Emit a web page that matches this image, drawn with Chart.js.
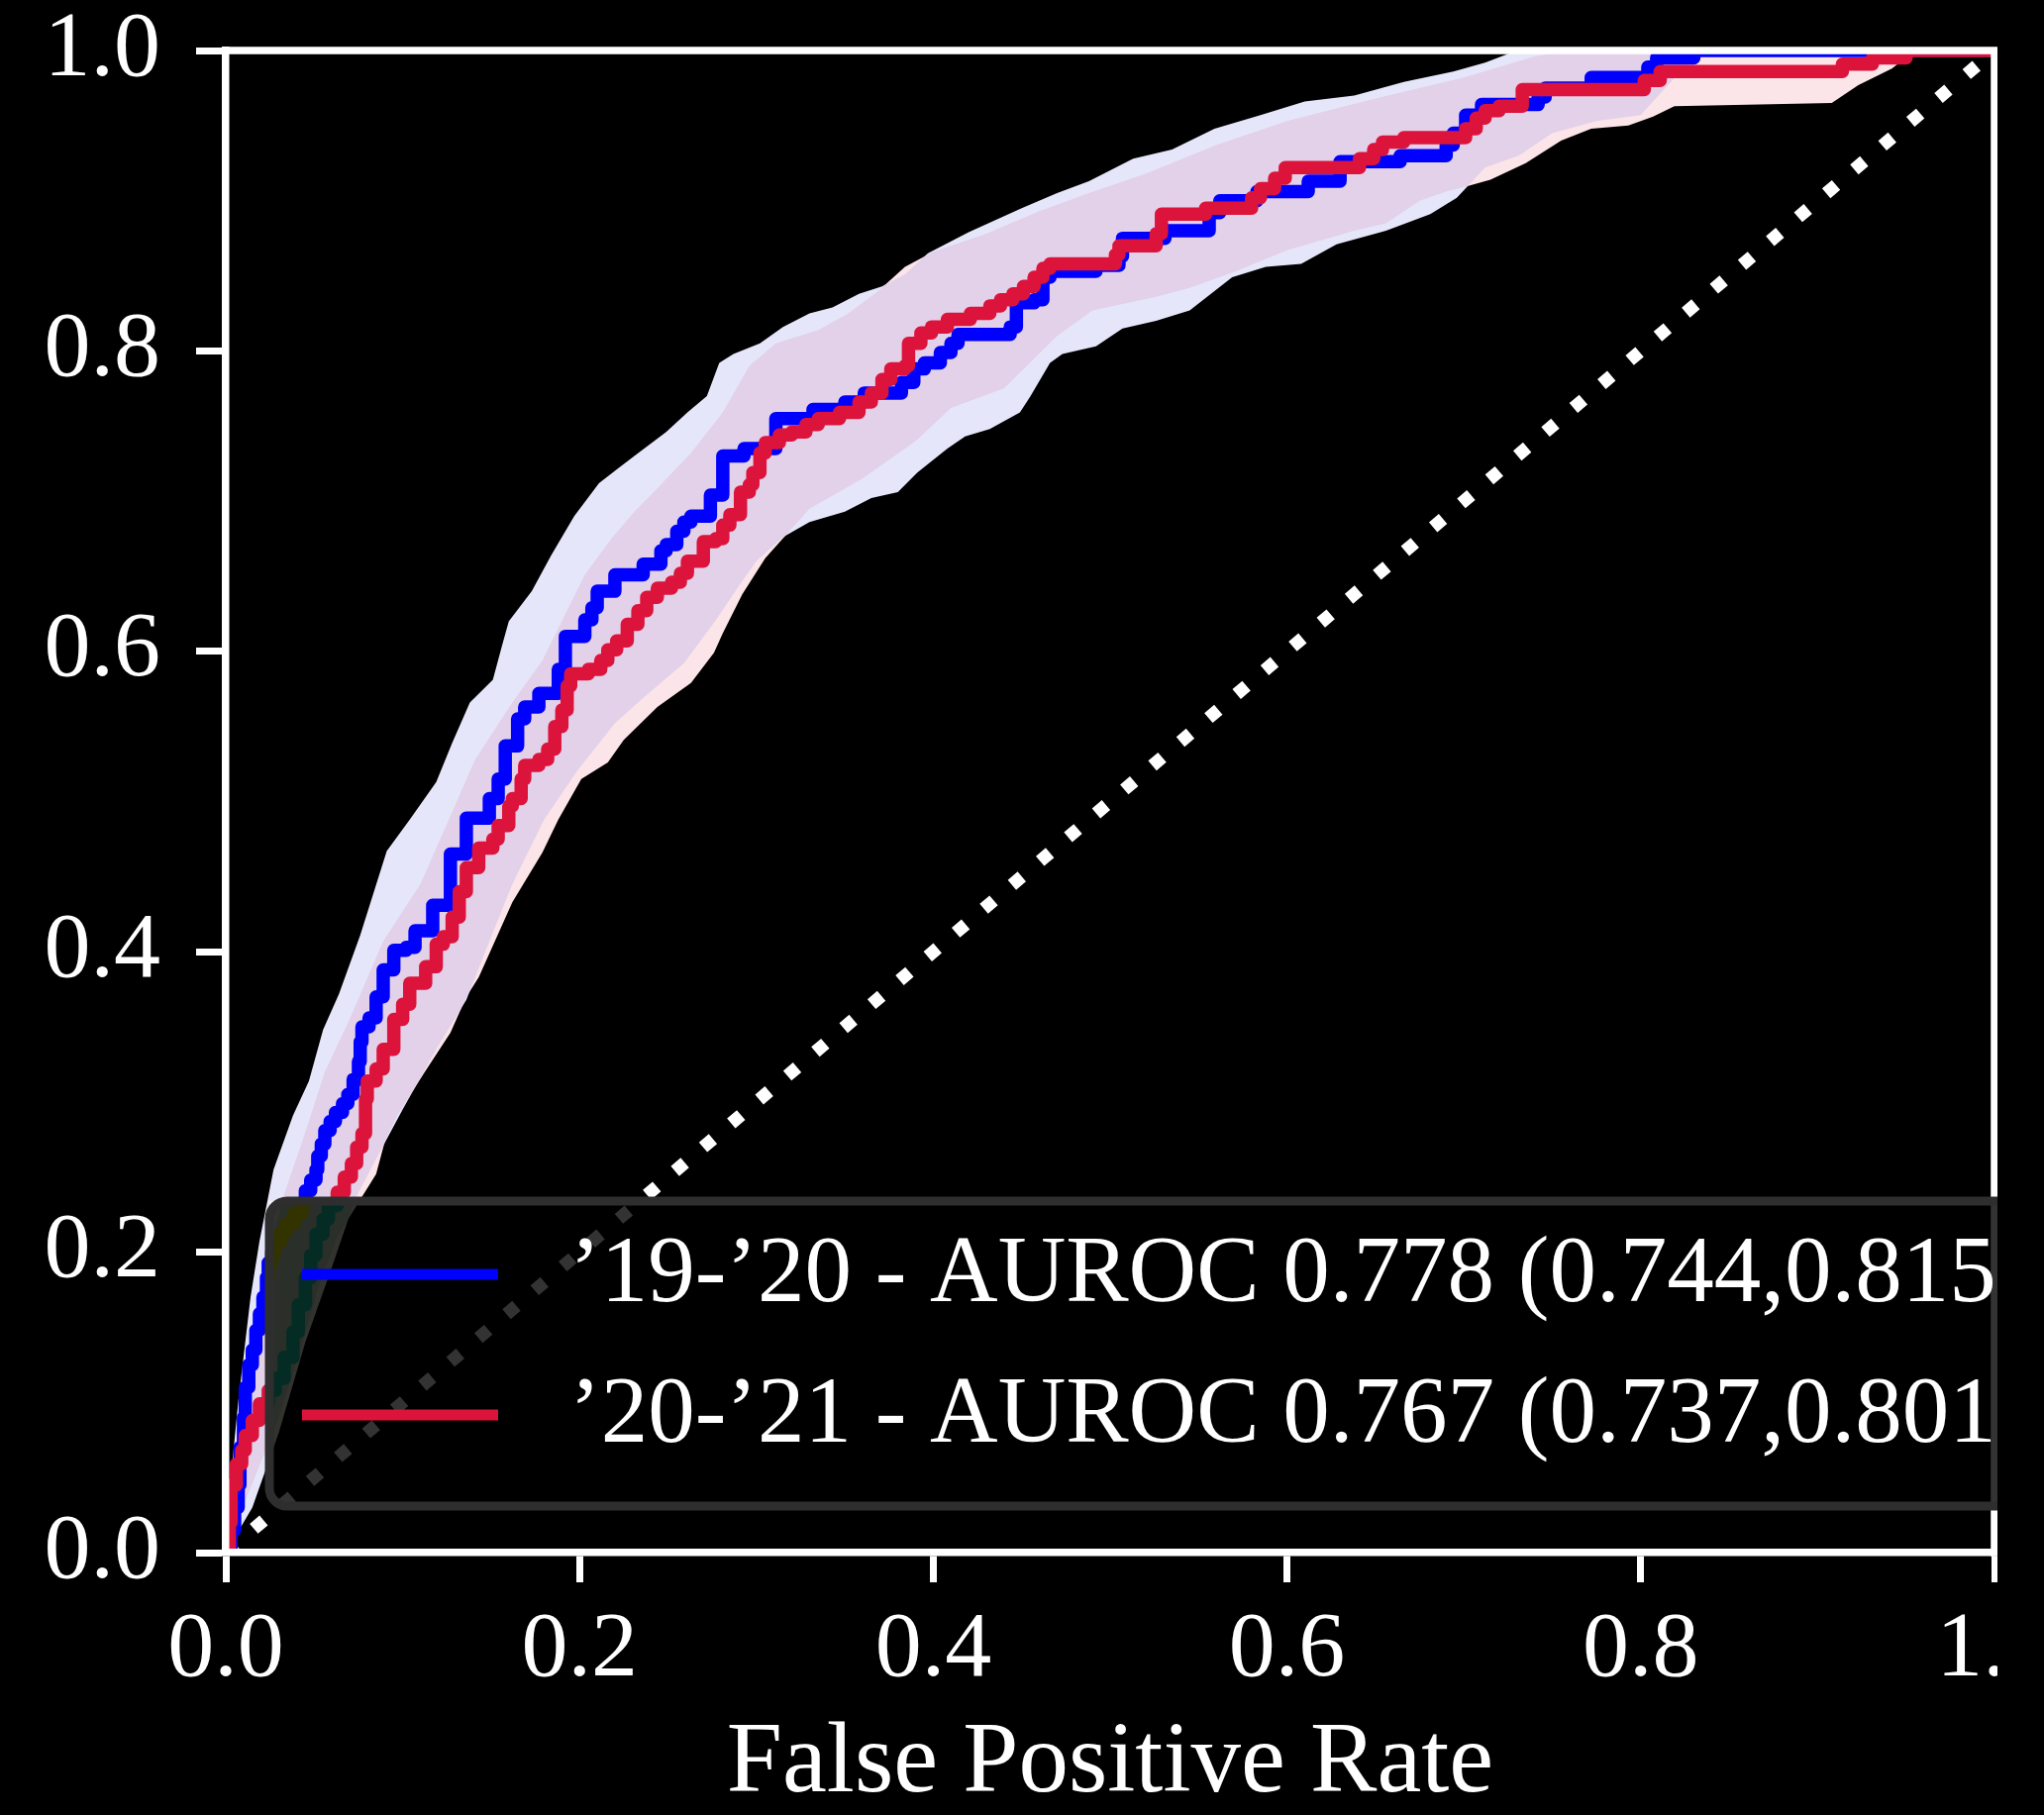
<!DOCTYPE html>
<html>
<head>
<meta charset="utf-8">
<title>ROC curves</title>
<script src="https://cdn.jsdelivr.net/npm/chart.js@4.4.1/dist/chart.umd.min.js"></script>
<style>
    html, body { margin: 0; padding: 0; background: #000; }
    #wrap { width: 2017px; height: 1833px; overflow: hidden; background: #000; }
    #rocChart { display: block; }
</style>
</head>
<body>
<div id="wrap"><canvas id="rocChart" width="2064" height="1833"></canvas></div>
<script>
// ===== DATA =====
const seasonLabels = ['\u201919-\u201920', '\u201920-\u201921'];
const aurocMean = [0.778, 0.767];
const aurocLow = [0.744, 0.737];
const aurocHigh = [0.815, 0.801];

const xTickValues = [0, 0.2, 0.4, 0.6, 0.8, 1.0];
const yTickValues = [0, 0.2, 0.4, 0.6, 0.8, 1.0];
const xAxisTitle = 'False Positive Rate';

// '19-'20 ROC (step corners)
const fpr1920 = [0, 0.003, 0.005, 0.007, 0.008, 0.010, 0.011, 0.013, 0.015, 0.017, 0.019, 0.021, 0.023, 0.024, 0.026, 0.028, 0.031, 0.034, 0.039, 0.043, 0.045, 0.048, 0.051, 0.052, 0.054, 0.056, 0.059, 0.062, 0.066, 0.069, 0.072, 0.075, 0.076, 0.077, 0.081, 0.085, 0.089, 0.095, 0.102, 0.107, 0.117, 0.127, 0.136, 0.149, 0.154, 0.158, 0.165, 0.169, 0.177, 0.188, 0.192, 0.203, 0.207, 0.210, 0.220, 0.236, 0.246, 0.249, 0.255, 0.259, 0.263, 0.274, 0.281, 0.293, 0.311, 0.332, 0.350, 0.361, 0.382, 0.389, 0.395, 0.404, 0.410, 0.414, 0.4435, 0.447, 0.457, 0.462, 0.466, 0.492, 0.505, 0.507, 0.531, 0.556, 0.562, 0.583, 0.612, 0.630, 0.664, 0.690, 0.694, 0.701, 0.710, 0.742, 0.746, 0.772, 0.804, 0.809, 0.830, 1.0];
const tpr1920 = [0, 0.015, 0.03, 0.045, 0.07, 0.09, 0.11, 0.125, 0.135, 0.148, 0.159, 0.17, 0.183, 0.193, 0.2, 0.207, 0.213, 0.219, 0.226, 0.233, 0.241, 0.248, 0.255, 0.264, 0.272, 0.281, 0.287, 0.293, 0.299, 0.305, 0.315, 0.327, 0.34, 0.350, 0.356, 0.370, 0.388, 0.401, 0.403, 0.414, 0.431, 0.465, 0.489, 0.502, 0.515, 0.537, 0.555, 0.563, 0.572, 0.588, 0.610, 0.621, 0.629, 0.640, 0.651, 0.658, 0.667, 0.671, 0.680, 0.686, 0.690, 0.704, 0.730, 0.735, 0.755, 0.761, 0.766, 0.772, 0.779, 0.788, 0.792, 0.799, 0.805, 0.811, 0.816, 0.832, 0.834, 0.849, 0.853, 0.857, 0.863, 0.875, 0.880, 0.892, 0.900, 0.906, 0.913, 0.926, 0.930, 0.937, 0.945, 0.957, 0.964, 0.969, 0.975, 0.982, 0.989, 0.995, 1.0, 1.0];

// '20-'21 ROC (step corners)
const fpr2021 = [0, 0.002, 0.003, 0.006, 0.009, 0.011, 0.015, 0.019, 0.024, 0.028, 0.033, 0.038, 0.041, 0.045, 0.048, 0.051, 0.055, 0.058, 0.063, 0.067, 0.071, 0.074, 0.077, 0.079, 0.080, 0.085, 0.089, 0.095, 0.100, 0.104, 0.113, 0.119, 0.123, 0.128, 0.132, 0.136, 0.143, 0.151, 0.154, 0.160, 0.162, 0.167, 0.169, 0.177, 0.182, 0.186, 0.190, 0.193, 0.195, 0.205, 0.212, 0.216, 0.221, 0.227, 0.233, 0.238, 0.244, 0.252, 0.257, 0.261, 0.270, 0.277, 0.281, 0.285, 0.291, 0.296, 0.298, 0.302, 0.305, 0.313, 0.320, 0.328, 0.335, 0.347, 0.358, 0.365, 0.371, 0.376, 0.384, 0.386, 0.393, 0.399, 0.408, 0.421, 0.432, 0.438, 0.445, 0.451, 0.457, 0.462, 0.466, 0.503, 0.505, 0.526, 0.529, 0.554, 0.580, 0.585, 0.593, 0.599, 0.641, 0.649, 0.654, 0.666, 0.701, 0.707, 0.712, 0.720, 0.733, 0.802, 0.811, 0.914, 0.931, 0.950, 1.0];
const tpr2021 = [0, 0.02, 0.045, 0.059, 0.068, 0.078, 0.088, 0.099, 0.108, 0.116, 0.13, 0.147, 0.165, 0.183, 0.198, 0.212, 0.222, 0.231, 0.240, 0.25, 0.259, 0.27, 0.279, 0.302, 0.314, 0.322, 0.335, 0.355, 0.365, 0.379, 0.390, 0.405, 0.410, 0.423, 0.440, 0.456, 0.469, 0.475, 0.484, 0.497, 0.502, 0.515, 0.524, 0.528, 0.535, 0.550, 0.561, 0.577, 0.585, 0.588, 0.594, 0.601, 0.607, 0.618, 0.627, 0.636, 0.642, 0.646, 0.652, 0.660, 0.673, 0.675, 0.684, 0.691, 0.706, 0.711, 0.719, 0.732, 0.739, 0.744, 0.746, 0.751, 0.755, 0.759, 0.766, 0.772, 0.781, 0.788, 0.790, 0.805, 0.812, 0.816, 0.821, 0.825, 0.830, 0.834, 0.838, 0.843, 0.849, 0.855, 0.858, 0.864, 0.870, 0.878, 0.891, 0.895, 0.902, 0.908, 0.915, 0.922, 0.928, 0.934, 0.939, 0.942, 0.948, 0.955, 0.960, 0.963, 0.974, 0.980, 0.986, 0.991, 0.995, 1.0, 1.0];

// '19-'20 confidence band
const upper1920X = [0, 0.002, 0.004, 0.007, 0.010, 0.014, 0.019, 0.027, 0.038, 0.047, 0.055, 0.064, 0.076, 0.091, 0.104, 0.119, 0.128, 0.138, 0.151, 0.156, 0.160, 0.173, 0.184, 0.197, 0.211, 0.222, 0.231, 0.249, 0.261, 0.272, 0.279, 0.287, 0.302, 0.315, 0.330, 0.343, 0.358, 0.371, 0.384, 0.397, 0.42, 0.45, 0.47, 0.488, 0.513, 0.535, 0.559, 0.585, 0.610, 0.638, 0.666, 0.694, 0.712, 0.73, 1.0];
const upper1920Y = [0, 0.04, 0.064, 0.10, 0.13, 0.17, 0.207, 0.255, 0.291, 0.314, 0.348, 0.372, 0.411, 0.467, 0.488, 0.513, 0.539, 0.566, 0.581, 0.603, 0.620, 0.640, 0.664, 0.690, 0.712, 0.722, 0.730, 0.746, 0.759, 0.770, 0.792, 0.798, 0.805, 0.816, 0.825, 0.829, 0.838, 0.843, 0.851, 0.865, 0.879, 0.895, 0.905, 0.913, 0.928, 0.934, 0.948, 0.957, 0.966, 0.970, 0.979, 0.986, 0.992, 1.0, 1.0];
const lower1920X = [0, 0.015, 0.03, 0.045, 0.06, 0.073, 0.085, 0.10, 0.119, 0.136, 0.147, 0.162, 0.180, 0.199, 0.220, 0.237, 0.259, 0.276, 0.291, 0.300, 0.315, 0.330, 0.350, 0.365, 0.380, 0.391, 0.408, 0.418, 0.432, 0.449, 0.455, 0.466, 0.473, 0.492, 0.507, 0.526, 0.545, 0.569, 0.588, 0.608, 0.628, 0.656, 0.681, 0.696, 0.712, 0.731, 0.750, 0.775, 0.800, 0.817, 0.835, 1.0];
const lower1920Y = [0, 0.03, 0.08, 0.14, 0.19, 0.235, 0.262, 0.295, 0.335, 0.368, 0.401, 0.445, 0.488, 0.521, 0.552, 0.570, 0.592, 0.619, 0.645, 0.660, 0.676, 0.686, 0.693, 0.702, 0.706, 0.719, 0.735, 0.743, 0.748, 0.759, 0.770, 0.792, 0.798, 0.803, 0.815, 0.820, 0.827, 0.849, 0.856, 0.858, 0.871, 0.880, 0.891, 0.902, 0.922, 0.930, 0.945, 0.953, 0.957, 0.979, 1.0, 1.0];

// '20-'21 confidence band
const upper2021X = [0, 0.003, 0.006, 0.010, 0.015, 0.022, 0.032, 0.045, 0.056, 0.070, 0.089, 0.110, 0.128, 0.141, 0.162, 0.179, 0.192, 0.203, 0.218, 0.231, 0.242, 0.263, 0.281, 0.296, 0.311, 0.335, 0.352, 0.369, 0.384, 0.40, 0.43, 0.46, 0.488, 0.52, 0.56, 0.60, 0.65, 0.70, 0.74, 0.76, 1.0];
const upper2021Y = [0, 0.035, 0.07, 0.11, 0.15, 0.19, 0.235, 0.28, 0.32, 0.355, 0.407, 0.445, 0.493, 0.528, 0.566, 0.594, 0.625, 0.651, 0.675, 0.693, 0.706, 0.732, 0.759, 0.790, 0.805, 0.814, 0.825, 0.840, 0.856, 0.866, 0.878, 0.893, 0.905, 0.918, 0.937, 0.953, 0.968, 0.982, 0.996, 1.0, 1.0];
const lower2021X = [0, 0.013, 0.03, 0.042, 0.052, 0.063, 0.076, 0.085, 0.090, 0.097, 0.112, 0.127, 0.136, 0.143, 0.162, 0.179, 0.188, 0.201, 0.216, 0.225, 0.244, 0.263, 0.276, 0.281, 0.292, 0.305, 0.33, 0.36, 0.39, 0.41, 0.44, 0.47, 0.49, 0.526, 0.545, 0.571, 0.60, 0.638, 0.656, 0.675, 0.69, 0.703, 0.715, 0.735, 0.755, 0.772, 0.793, 0.807, 0.819, 0.908, 0.923, 0.942, 0.955, 1.0];
const lower2021Y = [0, 0.04, 0.09, 0.135, 0.175, 0.21, 0.235, 0.252, 0.274, 0.291, 0.319, 0.346, 0.370, 0.383, 0.433, 0.466, 0.488, 0.515, 0.526, 0.541, 0.563, 0.579, 0.599, 0.612, 0.638, 0.662, 0.695, 0.715, 0.74, 0.762, 0.775, 0.81, 0.827, 0.836, 0.842, 0.853, 0.867, 0.880, 0.885, 0.90, 0.906, 0.910, 0.914, 0.925, 0.94, 0.948, 0.950, 0.956, 0.963, 0.965, 0.977, 0.988, 1.0, 1.0];

const chanceX = [0, 1];
const chanceY = [0, 1];

// ===== STYLE =====
const FONT = 'Liberation Serif';
const seriesColors = ['#0000ff', '#dc143c'];
const bandColors = ['rgb(230, 230, 250)', 'rgb(252, 229, 233)'];
const bandOverlap = 'rgb(226, 209, 233)';

function toPoints(xs, ys) {
    return xs.map((x, i) => ({ x: x, y: ys[i] }));
}

// ===== PLUGINS =====
// blue band first, red band painted purple on top of it, then pink behind the rest
const bandBlend = {
    id: 'bandBlend',
    afterDatasetDraw(chart, args) {
        const ctx = chart.ctx;
        if (args.index === 1) ctx.globalCompositeOperation = 'source-atop';
        else if (args.index === 3) ctx.globalCompositeOperation = 'destination-over';
        else if (args.index === 4) ctx.globalCompositeOperation = 'source-over';
    },
    afterDatasetsDraw(chart) {
        chart.ctx.globalCompositeOperation = 'source-over';
    }
};

// top and right spines
const frame = {
    id: 'frame',
    afterDatasetsDraw(chart) {
        const { ctx, chartArea: a } = chart;
        ctx.save();
        ctx.strokeStyle = '#fff';
        ctx.lineWidth = 7.5;
        ctx.beginPath();
        ctx.moveTo(a.left - 3.75, a.top);
        ctx.lineTo(a.right + 3.75, a.top);
        ctx.moveTo(a.right, a.top);
        ctx.lineTo(a.right, a.bottom + 3.75);
        ctx.stroke();
        ctx.restore();
    }
};

function roundedRect(ctx, x, y, w, h, r) {
    ctx.beginPath();
    ctx.moveTo(x + r, y);
    ctx.lineTo(x + w - r, y);
    ctx.arcTo(x + w, y, x + w, y + r, r);
    ctx.lineTo(x + w, y + h - r);
    ctx.arcTo(x + w, y + h, x + w - r, y + h, r);
    ctx.lineTo(x + r, y + h);
    ctx.arcTo(x, y + h, x, y + h - r, r);
    ctx.lineTo(x, y + r);
    ctx.arcTo(x, y, x + r, y, r);
    ctx.closePath();
}

// legend box in the lower right of the plot
const insetLegend = {
    id: 'insetLegend',
    afterDraw(chart) {
        const { ctx, chartArea: a } = chart;
        const left = a.left + 44;
        const top = a.bottom - 355;
        const bottom = a.bottom - 47;
        const right = a.right + 150;

        // whatever sits under the frame shows with opposite hue
        const x0 = Math.round(left), y0 = Math.round(top);
        const w = chart.width - x0, h = Math.round(bottom - top);
        const img = ctx.getImageData(x0, y0, w, h);
        const d = img.data;
        for (let p = 0; p < d.length; p += 4) {
            const r = d[p], g = d[p + 1], b = d[p + 2];
            const s = Math.max(r, g, b) + Math.min(r, g, b);
            d[p] = s - r; d[p + 1] = s - g; d[p + 2] = s - b;
        }
        ctx.putImageData(img, x0, y0);

        ctx.save();
        roundedRect(ctx, left, top, right - left, bottom - top, 18);
        ctx.fillStyle = 'rgba(0, 0, 0, 0.8)';
        ctx.fill();
        ctx.lineWidth = 9;
        ctx.strokeStyle = '#2e2e2e';
        ctx.stroke();

        const rows = [a.bottom - 281, a.bottom - 139];
        ctx.font = '95px "' + FONT + '"';
        ctx.textBaseline = 'middle';
        ctx.textAlign = 'left';
        seasonLabels.forEach((name, i) => {
            ctx.strokeStyle = seriesColors[i];
            ctx.lineWidth = 11;
            ctx.lineCap = 'butt';
            ctx.beginPath();
            ctx.moveTo(a.left + 77, rows[i]);
            ctx.lineTo(a.left + 275, rows[i]);
            ctx.stroke();
            const text = name + ' - AUROC ' + aurocMean[i].toFixed(3) +
                ' (' + aurocLow[i].toFixed(3) + ',' + aurocHigh[i].toFixed(3) + ')';
            ctx.fillStyle = '#fff';
            ctx.fillText(text, a.left + 347, rows[i] + 2);
        });
        ctx.restore();
    }
};

// ===== CHART =====
Chart.defaults.font.family = FONT;
Chart.defaults.color = '#fff';

const lineBase = { pointRadius: 0, clip: 0, tension: 0 };
const hidden = { borderWidth: 0, borderColor: 'rgba(0,0,0,0)' };

const rocChart = new Chart(document.getElementById('rocChart'), {
    type: 'line',
    data: {
        datasets: [
            Object.assign({}, lineBase, hidden, {
                label: 'lower1920', data: toPoints(lower1920X, lower1920Y), fill: false, order: 10
            }),
            Object.assign({}, lineBase, hidden, {
                label: 'upper1920', data: toPoints(upper1920X, upper1920Y),
                fill: { target: 0 }, backgroundColor: bandColors[0], order: 9
            }),
            Object.assign({}, lineBase, hidden, {
                label: 'lower2021', data: toPoints(lower2021X, lower2021Y), fill: false, order: 8
            }),
            Object.assign({}, lineBase, hidden, {
                label: 'upper2021 overlap', data: toPoints(upper2021X, upper2021Y),
                fill: { target: 2 }, backgroundColor: bandOverlap, order: 7
            }),
            Object.assign({}, lineBase, hidden, {
                label: 'upper2021', data: toPoints(upper2021X, upper2021Y),
                fill: { target: 2 }, backgroundColor: bandColors[1], order: 6
            }),
            Object.assign({}, lineBase, {
                label: 'chance', data: toPoints(chanceX, chanceY),
                borderColor: '#fff', borderWidth: 13, borderDash: [13, 24.2],
                borderCapStyle: 'butt', fill: false, order: 3
            }),
            Object.assign({}, lineBase, {
                label: seasonLabels[0], data: toPoints(fpr1920, tpr1920),
                borderColor: seriesColors[0], borderWidth: 13.5, stepped: 'before',
                borderJoinStyle: 'round', borderCapStyle: 'round', fill: false, order: 2
            }),
            Object.assign({}, lineBase, {
                label: seasonLabels[1], data: toPoints(fpr2021, tpr2021),
                borderColor: seriesColors[1], borderWidth: 13.5, stepped: 'before',
                borderJoinStyle: 'round', borderCapStyle: 'round', fill: false, order: 1
            })
        ]
    },
    options: {
        responsive: false,
        devicePixelRatio: 1,
        animation: false,
        events: [],
        layout: { padding: { top: 51, right: 50, bottom: 0, left: 0 } },
        plugins: {
            legend: { display: false },
            tooltip: { enabled: false }
        },
        scales: {
            x: {
                type: 'linear',
                min: 0,
                max: 1,
                afterBuildTicks: (scale) => { scale.ticks = xTickValues.map(v => ({ value: v })); },
                afterFit: (scale) => { scale.height = 265; scale.paddingLeft = 0; scale.paddingRight = 0; },
                ticks: {
                    color: '#fff',
                    font: { family: FONT, size: 94, lineHeight: 1 },
                    padding: 22,
                    maxRotation: 0,
                    autoSkip: false,
                    callback: (v) => Number(v).toFixed(1)
                },
                grid: { drawOnChartArea: false, drawTicks: true, tickLength: 30, tickWidth: 7, tickColor: '#fff' },
                border: { display: true, color: '#fff', width: 7.5, z: 1 },
                title: {
                    display: true,
                    text: xAxisTitle,
                    color: '#fff',
                    font: { family: FONT, size: 101, lineHeight: 1 },
                    padding: { top: 0, bottom: 0 }
                }
            },
            y: {
                type: 'linear',
                min: 0,
                max: 1,
                afterBuildTicks: (scale) => { scale.ticks = yTickValues.map(v => ({ value: v })); },
                afterFit: (scale) => { scale.width = 228; scale.paddingTop = 0; scale.paddingBottom = 0; },
                ticks: {
                    color: '#fff',
                    font: { family: FONT, size: 94, lineHeight: 1 },
                    padding: 36,
                    autoSkip: false,
                    callback: (v) => Number(v).toFixed(1)
                },
                grid: { drawOnChartArea: false, drawTicks: true, tickLength: 30, tickWidth: 7, tickColor: '#fff' },
                border: { display: true, color: '#fff', width: 7.5, z: 1 }
            }
        }
    },
    plugins: [bandBlend, frame, insetLegend]
});
</script>
</body>
</html>
